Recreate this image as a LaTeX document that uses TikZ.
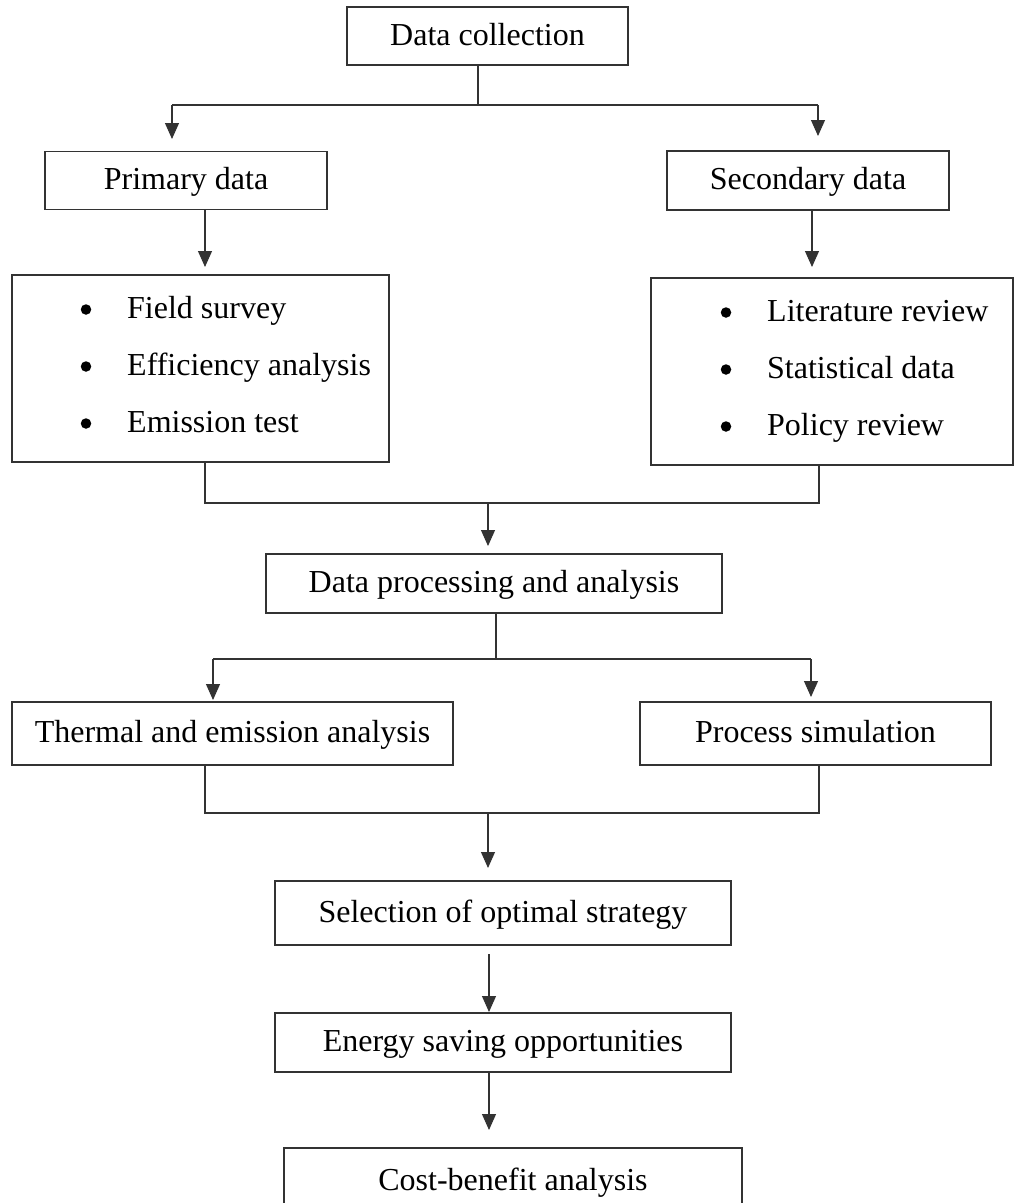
\documentclass[tikz,border=0pt]{standalone}
\usepackage{fontspec}
\setmainfont{Liberation Serif}
\usetikzlibrary{arrows.meta}
\newcommand\figfont{\fontsize{32}{38}\selectfont}
\begin{document}
\begin{tikzpicture}[x=1pt,y=-1pt,
  box/.style={draw=black!80,line width=1.1pt,inner sep=0pt,font=\figfont,text height=24pt,text depth=6pt},
  ln/.style={draw=black!80,line width=1.1pt},
  arr/.style={ln,-{Triangle[length=16pt,width=14pt]}},
  txt/.style={inner sep=0pt,font=\figfont},
  dot/.style={circle,fill=black,inner sep=0pt,minimum size=10.5pt}]
\useasboundingbox (0,0) rectangle (1014,1203);

% boxes
\node[box,minimum width=281pt,minimum height=58pt] (dc) at (487.5,36) {Data collection};
\node[box,minimum width=282pt,minimum height=58pt] (pd) at (186,180.5) {Primary data};
\node[box,minimum width=282pt,minimum height=59pt] (sd) at (808,180.5) {Secondary data};
\node[box,minimum width=377pt,minimum height=187pt] (pb) at (200.5,368.5) {};
\node[box,minimum width=362pt,minimum height=187pt] (sb) at (832,371.5) {};
\node[box,minimum width=456pt,minimum height=59pt] (dp) at (494,583.5) {Data processing and analysis};
\node[box,minimum width=441pt,minimum height=63pt] (th) at (232.5,733.5) {Thermal and emission analysis};
\node[box,minimum width=351pt,minimum height=63pt] (ps) at (815.5,733.5) {Process simulation};
\node[box,minimum width=456pt,minimum height=64pt] (so) at (503,913) {Selection of optimal strategy};
\node[box,minimum width=456pt,minimum height=59pt] (es) at (503,1042.5) {Energy saving opportunities};
\node[box,minimum width=458pt,minimum height=66pt] (cb) at (513,1181) {Cost-benefit analysis};

% bullet items
\node[dot] (pb1d) at (86,309.5) {};
\node[txt,anchor=base west] (pb1) at (127,318) {Field survey};
\node[dot] (pb2d) at (86,366.5) {};
\node[txt,anchor=base west] (pb2) at (127,375) {Efficiency analysis};
\node[dot] (pb3d) at (86,423.5) {};
\node[txt,anchor=base west] (pb3) at (127,432) {Emission test};

\node[dot] (sb1d) at (726,312.5) {};
\node[txt,anchor=base west] (sb1) at (767,321) {Literature review};
\node[dot] (sb2d) at (726,369.5) {};
\node[txt,anchor=base west] (sb2) at (767,378) {Statistical data};
\node[dot] (sb3d) at (726,426.5) {};
\node[txt,anchor=base west] (sb3) at (767,435) {Policy review};

% junction coordinates
\coordinate (j1) at (478,105);
\coordinate (j1L) at (172,105);
\coordinate (j1R) at (818,105);
\coordinate (t1L) at (172,139);
\coordinate (t1R) at (818,136);
\coordinate (t2L) at (205,267);
\coordinate (t2R) at (812,267);
\coordinate (j3L) at (205,503);
\coordinate (j3R) at (819,503);
\coordinate (j3) at (488,503);
\coordinate (t3) at (488,546);
\coordinate (j4) at (496,659);
\coordinate (j4L) at (213,659);
\coordinate (j4R) at (811,659);
\coordinate (t4L) at (213,700);
\coordinate (t4R) at (811,697);
\coordinate (j5L) at (205,813);
\coordinate (j5R) at (819,813);
\coordinate (j5) at (488,813);
\coordinate (t5) at (488,868);
\coordinate (s6) at (489,954);
\coordinate (t6) at (489,1012);
\coordinate (t7) at (489,1130);

% connectors
\draw[ln] (j1 |- dc.south) -- (j1);
\draw[ln] (j1L) -- (j1R);
\draw[arr] (j1L) -- (t1L);
\draw[arr] (j1R) -- (t1R);
\draw[arr] (t2L |- pd.south) -- (t2L);
\draw[arr] (t2R |- sd.south) -- (t2R);
\draw[ln] (j3L |- pb.south) -- (j3L) -- (j3R) -- (j3R |- sb.south);
\draw[arr] (j3) -- (t3);
\draw[ln] (j4 |- dp.south) -- (j4);
\draw[ln] (j4L) -- (j4R);
\draw[arr] (j4L) -- (t4L);
\draw[arr] (j4R) -- (t4R);
\draw[ln] (j5L |- th.south) -- (j5L) -- (j5R) -- (j5R |- ps.south);
\draw[arr] (j5) -- (t5);
\draw[arr] (s6) -- (t6);
\draw[arr] (t7 |- es.south) -- (t7);
\end{tikzpicture}
\end{document}
